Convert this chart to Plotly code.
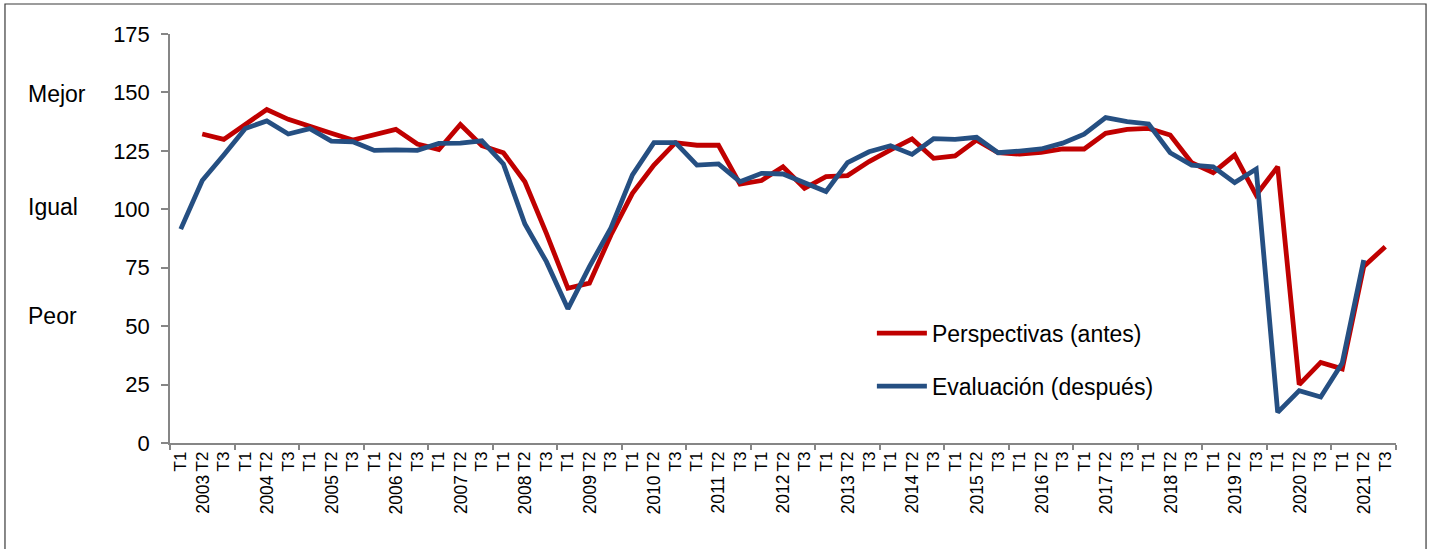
import plotly.graph_objects as go

years = [str(y) for y in range(2003, 2022)]
quarters = ["T1", "T2", "T3"]
tick_labels = [q for y in years for q in quarters]

perspectivas = [None, 132.2, 129.9, 136.3, 142.7, 138.5, 135.3, 132.5, 129.6, 132.1,
                134.2, 127.9, 125.6, 136.3, 127.2, 124.2, 111.8, 89.7, 66.2, 68.4,
                89.0, 106.8, 118.9, 128.5, 127.4, 127.4, 110.8, 112.3, 118.2, 109.0,
                114.0, 114.4, 120.4, 125.4, 130.1, 121.8, 122.8, 129.6, 124.2, 123.6,
                124.4, 125.8, 125.8, 132.5, 134.2, 134.6, 131.8, 119.9, 115.7, 123.2,
                106.1, 118.2, 25.0, 34.5, 31.7, 75.5, 84.0]

evaluacion = [91.5, 112.3, 123.2, 134.6, 137.8, 132.2, 134.5, 129.2, 128.9, 125.2,
              125.4, 125.2, 128.2, 128.3, 129.3, 119.4, 93.7, 77.6, 57.4, 75.5,
              92.0, 114.7, 128.5, 128.5, 118.9, 119.4, 111.8, 115.4, 115.1, 111.1,
              107.6, 120.0, 124.6, 127.2, 123.5, 130.2, 129.9, 130.8, 124.2, 124.9,
              125.8, 128.3, 132.1, 139.2, 137.5, 136.5, 124.2, 118.9, 118.2, 111.4,
              117.2, 13.1, 22.4, 19.7, 34.2, 78.3, None]

side_labels = ["Mejor", "Igual", "Peor"]
side_values = [149.3, 101.0, 54.5]

xs = list(range(len(tick_labels)))
FONT = "Arial, Liberation Sans, sans-serif"

fig = go.Figure()
fig.add_trace(go.Scatter(x=xs, y=perspectivas, mode="lines", name="Perspectivas (antes)",
                         line=dict(color="#C00000", width=4.8), legendgroup="a"))
fig.add_trace(go.Scatter(x=xs, y=evaluacion, mode="lines", name="Evaluación (después)",
                         line=dict(color="#254F82", width=4.8), legendgroup="b"))

annotations = []
for k, yr in enumerate(years):
    annotations.append(dict(x=3 * k + 1, y=-0.0735, xref="x", yref="paper", text=yr,
                            textangle=-90, showarrow=False, xanchor="center", yanchor="top",
                            font=dict(family=FONT, size=17.5, color="black")))
for lab, v in zip(side_labels, side_values):
    annotations.append(dict(x=-0.1175, y=v, xref="paper", yref="y", text=lab,
                            showarrow=False, xanchor="left", yanchor="middle",
                            font=dict(family=FONT, size=23, color="black")))

fig.update_layout(
    width=1432, height=549,
    margin=dict(l=170, r=36, t=34, b=106),
    paper_bgcolor="white", plot_bgcolor="white",
    font=dict(family=FONT, color="black"),
    showlegend=True,
    legend=dict(x=0.5725, y=0.321, xanchor="left", yanchor="top",
                font=dict(family=FONT, size=23, color="black"),
                bgcolor="rgba(0,0,0,0)", traceorder="grouped", tracegroupgap=20,
                itemwidth=50),
    xaxis=dict(range=[-0.5, len(tick_labels) - 0.5], tickmode="array", tickvals=xs,
               ticktext=tick_labels, tickangle=-90, ticks="", showgrid=False,
               zeroline=False, showline=True, linecolor="#868686", linewidth=1.5,
               tickfont=dict(family=FONT, size=17, color="black"),
               minor=dict(tick0=-0.5, dtick=3, ticks="outside", ticklen=5,
                          tickcolor="#868686", tickwidth=1.5, showgrid=False)),
    yaxis=dict(range=[0, 175], tickmode="array", tickvals=list(range(0, 176, 25)),
               ticks="outside", ticklen=7, tickcolor="#868686", tickwidth=1.5,
               showgrid=False, zeroline=False, showline=True, linecolor="#868686",
               linewidth=1.5, ticklabelstandoff=7,
               tickfont=dict(family=FONT, size=22, color="black")),
    annotations=annotations,
    shapes=[dict(type="rect", xref="paper", yref="paper", x0=-0.1346, x1=1.0245,
                 y0=-0.3, y1=1.0733, line=dict(color="#3a3a3a", width=1.2),
                 fillcolor="rgba(0,0,0,0)", layer="below")],
)

fig.write_html("out.html", config={"displayModeBar": False},
               post_script="document.body.style.margin='0';document.body.style.overflow='hidden';")
